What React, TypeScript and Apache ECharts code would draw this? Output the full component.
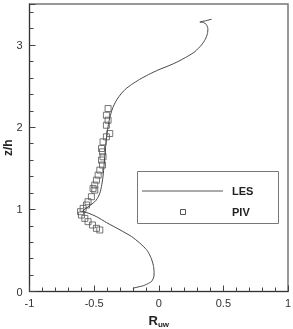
import React, { useEffect, useRef } from "react";
import * as echarts from "echarts";

const lesX = [-0.20,-0.16,-0.12,-0.085,-0.057,-0.042,-0.036,-0.037,-0.042,-0.057,-0.075,-0.095,-0.147,-0.211,-0.30,-0.405,-0.48,-0.546,-0.59,-0.547,-0.508,-0.485,-0.469,-0.455,-0.443,-0.433,-0.425,-0.418,-0.41,-0.40,-0.39,-0.375,-0.355,-0.33,-0.30,-0.26,-0.21,-0.15,-0.08,0.0,0.08,0.15,0.22,0.28,0.33,0.36,0.377,0.38,0.368,0.345,0.318,0.36,0.41];
const lesZ = [0.04,0.055,0.07,0.095,0.12,0.16,0.2,0.26,0.32,0.4,0.46,0.51,0.59,0.67,0.75,0.84,0.91,0.955,0.975,1.03,1.075,1.11,1.15,1.2,1.28,1.38,1.5,1.64,1.78,1.92,2.03,2.14,2.24,2.32,2.39,2.46,2.52,2.58,2.64,2.7,2.75,2.8,2.86,2.92,3.0,3.07,3.14,3.2,3.25,3.275,3.28,3.295,3.315];

const pivX = [-0.392,-0.405,-0.392,-0.405,-0.379,-0.405,-0.431,-0.443,-0.435,-0.431,-0.443,-0.435,-0.456,-0.469,-0.482,-0.495,-0.508,-0.495,-0.521,-0.547,-0.559,-0.585,-0.605,-0.598,-0.572,-0.547,-0.513,-0.482,-0.456];
const pivZ = [2.227,2.146,2.085,2.024,1.923,1.883,1.822,1.741,1.70,1.64,1.60,1.54,1.478,1.417,1.356,1.296,1.255,1.235,1.154,1.093,1.053,1.012,0.972,0.931,0.89,0.85,0.81,0.769,0.749];

const xTicks = [-1, -0.5, 0, 0.5, 1];
const zTicks = [0, 1, 2, 3];

const FONT = "Liberation Sans, Arial, sans-serif";
const GL = 29.5, GR = 5, GT = 4, GB = 37.5, W = 293, H = 329;

export default function App() {
  const ref = useRef<HTMLDivElement>(null);
  useEffect(() => {
    if (!ref.current) return;
    const chart = echarts.init(ref.current, null, { renderer: "svg" });
    const les = lesX.map((x, i) => [x, lesZ[i]]);
    const piv = pivX.map((x, i) => [x, pivZ[i]]);
    chart.setOption({
      animation: false,
      grid: {
        left: GL, right: GR, top: GT, bottom: GB,
        containLabel: false, outerBoundsMode: "none",
        show: true, borderColor: "#777", borderWidth: 1.5, backgroundColor: "transparent",
      },
      xAxis: {
        type: "value", min: xTicks[0], max: xTicks[xTicks.length - 1], interval: 0.5,
        axisLine: { show: true, onZero: false, lineStyle: { color: "#333", width: 1 } },
        axisTick: { show: true, inside: true, length: 6, lineStyle: { color: "#444" } },
        minorTick: { show: true, splitNumber: 5, length: 4, lineStyle: { color: "#444" } },
        splitLine: { show: false },
        axisLabel: {
          margin: 6, color: "#333", fontSize: 11, fontFamily: FONT,
          formatter: (v: number) => (v === 0 ? "0" : String(v)),
        },
        name: "{b|R}{s|uw}",
        nameLocation: "middle",
        nameGap: 21,
        nameMoveOverlap: false,
        nameTextStyle: {
          rich: {
            b: { fontSize: 13, fontWeight: "bold", color: "#222", fontFamily: FONT },
            s: { fontSize: 8, fontWeight: "bold", color: "#222", fontFamily: FONT, padding: [8, 0, 0, 0] },
          },
        },
      },
      yAxis: [
        {
          type: "value", min: zTicks[0], max: 3.5, interval: 1,
          axisLine: { show: true, onZero: false, lineStyle: { color: "#333", width: 1 } },
          axisTick: { show: true, inside: true, length: 6, lineStyle: { color: "#444" } },
          minorTick: { show: false },
          splitLine: { show: false },
          axisLabel: {
            margin: 7, color: "#333", fontSize: 11, fontFamily: FONT,
            formatter: (v: number) => (zTicks.includes(v) ? String(v) : ""),
          },
          name: "z/h",
          nameLocation: "middle",
          nameGap: 16,
          nameMoveOverlap: false,
          nameTextStyle: { fontSize: 12, fontWeight: "bold", color: "#222", fontFamily: FONT },
        },
        {
          type: "value", min: 0, max: 3.5, interval: 0.2, position: "left",
          axisLine: { show: false, onZero: false },
          axisTick: { show: true, inside: true, length: 4, lineStyle: { color: "#444" } },
          axisLabel: { show: false },
          splitLine: { show: false },
        },
      ],
      series: [
        {
          name: "LES", type: "line", data: les, yAxisIndex: 0,
          symbol: "none", smooth: 0.2,
          lineStyle: { color: "#444", width: 1 },
        },
        {
          name: "PIV", type: "scatter", data: piv, yAxisIndex: 0,
          symbol: "rect", symbolSize: 6,
          itemStyle: { color: "rgba(0,0,0,0)", borderColor: "#555", borderWidth: 1 },
        },
      ],
      graphic: [
        { type: "rect", shape: { x: 137.5, y: 171.5, width: 141, height: 52 }, style: { fill: "#fff", stroke: "#777", lineWidth: 1 }, z: 100 },
        { type: "line", shape: { x1: 142, y1: 191, x2: 223, y2: 191 }, style: { stroke: "#555", lineWidth: 1 }, z: 101 },
        { type: "text", x: 232, y: 191, style: { text: "LES", font: `bold 11px ${FONT}`, fill: "#222", textVerticalAlign: "middle" }, z: 101 },
        { type: "rect", shape: { x: 180.5, y: 209.5, width: 5, height: 5 }, style: { fill: "none", stroke: "#555", lineWidth: 1 }, z: 101 },
        { type: "text", x: 232, y: 212, style: { text: "PIV", font: `bold 11px ${FONT}`, fill: "#222", textVerticalAlign: "middle" }, z: 101 },
      ],
    });
    return () => chart.dispose();
  }, []);
  return <div ref={ref} style={{ position: "fixed", left: 0, top: 0, width: W, height: H }} />;
}
